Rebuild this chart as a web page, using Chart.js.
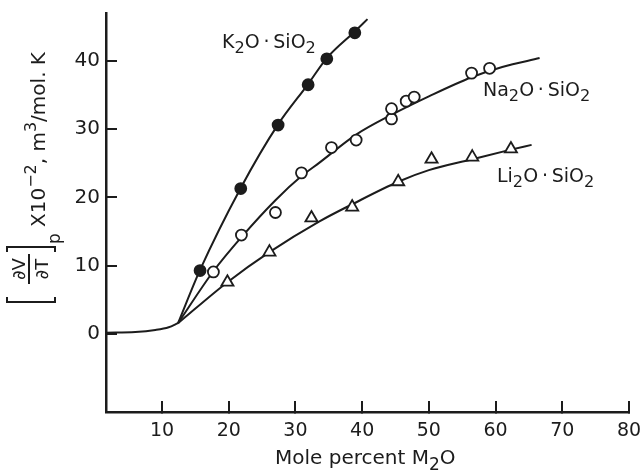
<!DOCTYPE html>
<html>
<head>
<meta charset="utf-8">
<script src="https://cdn.jsdelivr.net/npm/chart.js@4.4.0/dist/chart.umd.min.js"></script>
<style>
  html, body { margin: 0; padding: 0; background: #fff; }
</style>
</head>
<body>
<canvas id="expChart" width="640" height="471"></canvas>
<script>
// x: mole percent M2O, y: (dV/dT)p x 10^-2 m3/mol.K
var xTicks = [10, 20, 30, 40, 50, 60, 70, 80];
var yTicks = [0, 10, 20, 30, 40];

// measured points
var k2oX = [15.7, 21.8, 27.4, 31.9, 34.7, 38.9];
var k2oY = [9.3, 21.3, 30.6, 36.5, 40.3, 44.1];
var na2oX = [17.7, 21.9, 27.0, 30.9, 35.4, 39.1, 44.4, 44.4, 46.6, 47.8, 56.4, 59.1];
var na2oY = [9.1, 14.5, 17.8, 23.6, 27.3, 28.4, 31.5, 33.0, 34.1, 34.7, 38.2, 38.9];
var li2oX = [19.8, 26.1, 32.4, 38.5, 45.4, 50.4, 56.5, 62.3];
var li2oY = [7.6, 12.0, 17.0, 18.6, 22.3, 25.6, 25.9, 27.1];

// the hand-drawn curves
var baseX = [1.6, 6, 9, 11, 12.4];
var baseY = [0.2, 0.3, 0.6, 1.0, 1.6];
var k2oCurveX = [12.4, 15.7, 21.8, 27.4, 31.9, 34.7, 38.9, 40.8];
var k2oCurveY = [1.6, 9.4, 21.4, 30.7, 36.6, 40.4, 44.3, 46.1];
var na2oCurveX = [12.4, 17.7, 22, 27, 31, 33.6, 39.1, 44.4, 50, 56.4, 61, 66.6];
var na2oCurveY = [1.6, 9.2, 14.3, 19.6, 23.2, 25.1, 29.2, 32.1, 34.8, 37.6, 39.1, 40.4];
var li2oCurveX = [12.4, 19.8, 26.1, 33.6, 38.5, 45.4, 50, 56.5, 62.3, 65.4];
var li2oCurveY = [1.6, 7.6, 12.0, 16.5, 19.0, 22.3, 24.0, 25.6, 27.0, 27.7];

var ink = '#1c1c1c';

function pts(xs, ys) {
    return xs.map(function (x, i) { return { x: x, y: ys[i] }; });
}

function curve(xs, ys) {
    return {
        data: pts(xs, ys),
        showLine: true,
        borderColor: ink,
        borderWidth: 2,
        pointRadius: 0,
        cubicInterpolationMode: 'monotone',
        order: 2
    };
}

function marks(xs, ys, style, fill, r) {
    return {
        data: pts(xs, ys),
        showLine: false,
        pointStyle: style,
        pointRadius: r,
        pointBackgroundColor: fill,
        pointBorderColor: ink,
        pointBorderWidth: 1.8,
        order: 1
    };
}

// draws text made of normal / sub / sup pieces
function rich(ctx, x, y, parts, size) {
    ctx.textAlign = 'left';
    ctx.textBaseline = 'alphabetic';
    parts.forEach(function (p) {
        var s = size, dy = 0;
        if (p[1] === 'sub') { s = size * 0.85; dy = size * 0.28; }
        if (p[1] === 'sup') { s = size * 0.8; dy = -size * 0.45; }
        ctx.font = s + 'px "DejaVu Sans"';
        ctx.fillText(p[0], x, y + dy);
        x += ctx.measureText(p[0]).width;
    });
    return x;
}

var textPlugin = {
    id: 'texts',
    afterDraw: function (chart) {
        var ctx = chart.ctx;
        ctx.save();
        ctx.fillStyle = ink;
        ctx.strokeStyle = ink;

        var dot = 'O\u2009\u00b7\u2009SiO';
        rich(ctx, 222, 48, [['K', 'n'], ['2', 'sub'], [dot, 'n'], ['2', 'sub']], 19);
        rich(ctx, 483, 96, [['Na', 'n'], ['2', 'sub'], [dot, 'n'], ['2', 'sub']], 19);
        rich(ctx, 497, 182, [['Li', 'n'], ['2', 'sub'], [dot, 'n'], ['2', 'sub']], 19);

        rich(ctx, 275, 464, [['Mole percent M', 'n'], ['2', 'sub'], ['O', 'n']], 20);

        // y axis title, rotated
        ctx.translate(30, 303);
        ctx.rotate(-Math.PI / 2);
        ctx.lineWidth = 2;
        ctx.beginPath();
        ctx.moveTo(6, -23); ctx.lineTo(1, -23); ctx.lineTo(1, 25); ctx.lineTo(6, 25);
        ctx.moveTo(51, -23); ctx.lineTo(56, -23); ctx.lineTo(56, 25); ctx.lineTo(51, 25);
        ctx.moveTo(19, -1); ctx.lineTo(49, -1);
        ctx.stroke();
        ctx.font = '18px "DejaVu Sans"';
        ctx.textAlign = 'center';
        ctx.fillText('\u2202V', 34, -5);
        ctx.fillText('\u2202T', 34, 18);
        ctx.textAlign = 'left';
        ctx.font = '17px "DejaVu Sans"';
        ctx.fillText('p', 59, 30);
        rich(ctx, 76, 15, [['X10', 'n'], ['\u22122', 'sup'], [', m', 'n'], ['3', 'sup'], ['/mol. K', 'n']], 20);
        ctx.restore();
    }
};

var ctx = document.getElementById('expChart').getContext('2d');
var expChart = new Chart(ctx, {
    type: 'scatter',
    data: {
        datasets: [
            curve(baseX, baseY),
            curve(k2oCurveX, k2oCurveY),
            curve(na2oCurveX, na2oCurveY),
            curve(li2oCurveX, li2oCurveY),
            marks(k2oX, k2oY, 'circle', ink, 5.5),
            marks(na2oX, na2oY, 'circle', '#ffffff', 5.5),
            marks(li2oX, li2oY, 'triangle', '#ffffff', 7)
        ]
    },
    options: {
        responsive: false,
        animation: false,
        devicePixelRatio: 1,
        layout: { padding: { left: 0, right: 11, top: 13, bottom: 0 } },
        plugins: {
            legend: { display: false },
            tooltip: { enabled: false }
        },
        scales: {
            x: {
                type: 'linear',
                min: 1.6,
                max: 80,
                afterBuildTicks: function (s) {
                    s.ticks = xTicks.map(function (v) { return { value: v }; });
                },
                afterFit: function (s) {
                    s.height = 59;
                    s.paddingLeft = 0;
                    s.paddingRight = 0;
                },
                grid: { drawOnChartArea: false, tickLength: -11, color: ink, lineWidth: 2 },
                border: { color: ink, width: 2.5 },
                ticks: {
                    padding: 19,
                    autoSkip: false,
                    maxRotation: 0,
                    color: ink,
                    font: { family: 'DejaVu Sans', size: 19 }
                }
            },
            y: {
                type: 'linear',
                min: -11.4,
                max: 47.0,
                afterBuildTicks: function (s) {
                    s.ticks = yTicks.map(function (v) { return { value: v }; });
                },
                afterFit: function (s) {
                    s.width = 106;
                    s.paddingTop = 0;
                    s.paddingBottom = 0;
                },
                grid: { drawOnChartArea: false, tickLength: -11, color: ink, lineWidth: 2 },
                border: { color: ink, width: 2.5 },
                ticks: {
                    padding: 17,
                    color: ink,
                    font: { family: 'DejaVu Sans', size: 20 }
                }
            }
        }
    },
    plugins: [textPlugin]
});
</script>
</body>
</html>
